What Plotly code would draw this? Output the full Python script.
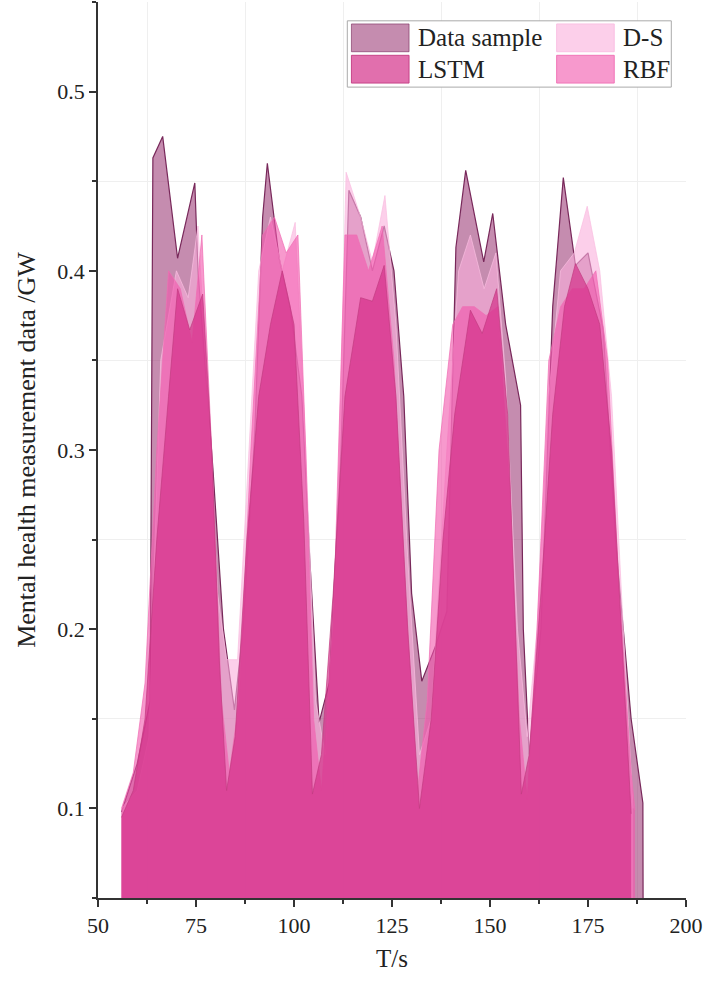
import plotly.graph_objects as go

# Series (T/s, GW)
data_x = [56, 60, 63.3, 64, 66.5, 70.3, 74.7, 75.5, 79.3, 82, 84.8, 87, 90, 92, 93.2, 96.2, 99, 102, 104,
          106.4, 109, 112, 114, 117, 120, 123, 125.5, 128, 130, 132.6, 136, 139, 141.3, 143.8, 148.4, 150.7,
          154, 157.8, 158.5, 160, 163, 166, 168.7, 171.8, 175, 178.9, 182, 186, 189, 189.1]
data_y = [0.098, 0.125, 0.16, 0.463, 0.475, 0.407, 0.449, 0.40, 0.29, 0.20, 0.155, 0.20, 0.31, 0.43, 0.46,
          0.407, 0.38, 0.33, 0.24, 0.148, 0.17, 0.30, 0.445, 0.43, 0.40, 0.425, 0.40, 0.33, 0.22, 0.171,
          0.19, 0.21, 0.413, 0.456, 0.405, 0.432, 0.37, 0.325, 0.20, 0.13, 0.20, 0.38, 0.452, 0.403, 0.41,
          0.367, 0.25, 0.15, 0.103, 0.0]

ds_x = [56, 60, 63, 66, 70, 73, 75.5, 78, 80.5, 82.8, 85.6, 88, 91, 94, 97, 100.3, 103, 105.5, 108, 111,
        113.3, 117, 120, 123.2, 126, 129, 132, 135, 139, 142, 145, 148.5, 151.5, 154, 157, 159.5, 162, 165,
        168, 171.5, 174.8, 178, 181, 184, 186.5]
ds_y = [0.10, 0.11, 0.14, 0.35, 0.40, 0.385, 0.425, 0.33, 0.22, 0.183, 0.183, 0.28, 0.40, 0.43, 0.40, 0.427,
        0.30, 0.16, 0.13, 0.25, 0.455, 0.43, 0.405, 0.442, 0.37, 0.24, 0.13, 0.15, 0.30, 0.40, 0.42, 0.39,
        0.41, 0.34, 0.20, 0.14, 0.20, 0.33, 0.40, 0.41, 0.436, 0.40, 0.33, 0.20, 0.10]

rbf_x = [56, 59, 62, 65, 68, 71, 74, 76.5, 79, 81.5, 83.5, 86, 89, 92, 95, 98, 101, 103, 105, 107, 110, 113,
         116, 119, 122.5, 125.5, 128.5, 131.5, 134, 137, 140.5, 143, 146, 149, 152, 155, 157.5, 159.5, 162,
         165, 168, 171, 174, 177, 180, 183, 186, 187]
rbf_y = [0.10, 0.12, 0.17, 0.30, 0.40, 0.39, 0.36, 0.42, 0.30, 0.16, 0.12, 0.16, 0.30, 0.42, 0.43, 0.41,
         0.42, 0.30, 0.15, 0.11, 0.20, 0.42, 0.42, 0.40, 0.425, 0.35, 0.22, 0.11, 0.16, 0.30, 0.37, 0.38,
         0.38, 0.375, 0.38, 0.28, 0.15, 0.105, 0.20, 0.35, 0.38, 0.39, 0.39, 0.40, 0.35, 0.22, 0.12, 0.099]

lstm_x = [56, 59, 62, 65, 68, 70.3, 73.4, 76.7, 79, 81, 82.8, 85, 88, 91, 94, 97, 100, 102.5, 104.7, 107,
          110, 113, 117, 120, 123, 126, 129, 132, 135, 138, 141, 145, 148, 151.7, 154.5, 156.5, 158, 160,
          163, 166, 169, 171.8, 175, 178, 181, 183.5, 186]
lstm_y = [0.095, 0.11, 0.15, 0.25, 0.33, 0.39, 0.367, 0.387, 0.30, 0.18, 0.11, 0.14, 0.25, 0.33, 0.37, 0.40,
          0.37, 0.26, 0.108, 0.13, 0.22, 0.33, 0.385, 0.383, 0.403, 0.33, 0.20, 0.10, 0.15, 0.25, 0.32,
          0.378, 0.365, 0.39, 0.32, 0.20, 0.108, 0.13, 0.22, 0.32, 0.38, 0.404, 0.39, 0.37, 0.30, 0.20, 0.097]

names = ["Data sample", "LSTM", "D-S", "RBF"]
fills = ["rgba(150,45,110,0.55)", "rgba(212,50,138,0.7)", "rgba(250,175,220,0.6)", "rgba(242,85,172,0.6)"]
edges = ["rgb(120,40,90)", "rgba(195,60,130,0.9)", "rgba(250,190,225,0.9)", "rgba(240,110,180,0.9)"]
series = {"Data sample": (data_x, data_y), "LSTM": (lstm_x, lstm_y),
          "D-S": (ds_x, ds_y), "RBF": (rbf_x, rbf_y)}

font = "Liberation Serif, Times New Roman, serif"

fig = go.Figure()
# bottom to top: data sample, D-S, RBF, LSTM
for name in ["Data sample", "D-S", "RBF", "LSTM"]:
    i = names.index(name)
    xs, ys = series[name]
    fig.add_trace(go.Scatter(
        x=xs, y=ys, name=name, mode="lines", fill="tozeroy",
        fillcolor=fills[i], line=dict(color=edges[i], width=1.2 if i == 0 else 0.8),
        showlegend=False))

# hand-made legend box with big swatches
x0, x1, y0, y1 = 0.424, 0.975, 0.905, 0.979
fig.add_shape(type="rect", xref="paper", yref="paper", x0=x0, x1=x1, y0=y0, y1=y1,
              line=dict(color="#aaaaaa", width=1), fillcolor="white", layer="above")
col_x = [0.431, 0.780]
row_y = [0.9425 + 0.0175, 0.9425 - 0.0175]
sw_w, sw_h = 0.098, 0.031
for k, name in enumerate(names):
    cx = col_x[k // 2]
    cy = row_y[k % 2]
    fig.add_shape(type="rect", xref="paper", yref="paper", x0=cx, x1=cx + sw_w,
                  y0=cy - sw_h / 2, y1=cy + sw_h / 2, layer="above",
                  fillcolor=fills[k], line=dict(color=edges[k] if k else "rgba(120,40,90,0.6)", width=1))
    fig.add_annotation(xref="paper", yref="paper", x=cx + sw_w + 0.012, y=cy, text=name,
                       showarrow=False, xanchor="left", yanchor="middle",
                       font=dict(family=font, size=25, color="#222222"))

axis_common = dict(showline=True, linecolor="#333333", linewidth=1.5, ticks="outside",
                   tickcolor="#333333", ticklen=7, tickwidth=1.5, showgrid=False, zeroline=False,
                   tickfont=dict(family=font, size=22, color="#222222"))

fig.update_xaxes(range=[50, 200], tick0=50, dtick=25,
                 title=dict(text="T/s", font=dict(family=font, size=25, color="#222222"), standoff=12),
                 minor=dict(dtick=12.5, tick0=50, ticks="outside", ticklen=4, tickcolor="#333333",
                            showgrid=True, gridcolor="#efefef", gridwidth=1),
                 **axis_common)
fig.update_yaxes(range=[0.05, 0.55], tick0=0.1, dtick=0.1, tickformat=".1f",
                 title=dict(text="Mental health measurement data /GW",
                            font=dict(family=font, size=26, color="#222222"), standoff=14),
                 minor=dict(dtick=0.05, tick0=0.05, ticks="outside", ticklen=4, tickcolor="#333333",
                            showgrid=True, gridcolor="#efefef", gridwidth=1),
                 **axis_common)

fig.update_layout(width=710, height=981, plot_bgcolor="white", paper_bgcolor="white",
                  margin=dict(l=98, r=24, t=2, b=83), showlegend=False)

# drop the default body margin so the figure sits at the window's corner
fig.write_html("out.html", config={"displayModeBar": False},
               post_script="document.body.style.margin='0';")
